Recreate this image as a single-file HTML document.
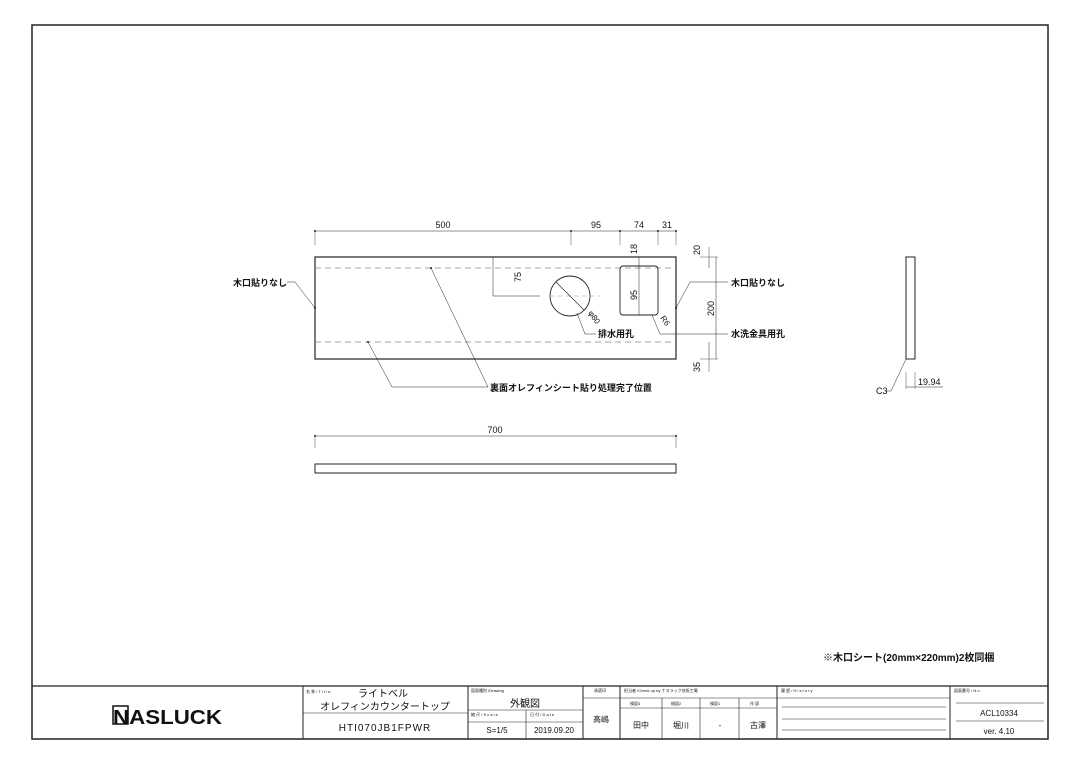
<!DOCTYPE html>
<html><head><meta charset="utf-8"><style>
body{margin:0;background:#fff}
svg{display:block}
text{font-family:"Liberation Sans","Noto Sans CJK JP",sans-serif;fill:#111}
</style></head><body>
<svg width="1080" height="764" viewBox="0 0 1080 764" xmlns="http://www.w3.org/2000/svg">
<g fill="none" stroke="#222">
<rect x="32" y="25" width="1016" height="714" stroke-width="1.5"/>
<line x1="32" y1="686" x2="1048" y2="686" stroke-width="1.2"/>
<line x1="303" y1="686" x2="303" y2="739"/>
<line x1="468" y1="686" x2="468" y2="739"/>
<line x1="583" y1="686" x2="583" y2="739"/>
<line x1="620" y1="686" x2="620" y2="739"/>
<line x1="777" y1="686" x2="777" y2="739"/>
<line x1="950" y1="686" x2="950" y2="739"/>
<line x1="303" y1="713" x2="468" y2="713" stroke-width="0.6"/>
<line x1="468" y1="710" x2="583" y2="710" stroke-width="0.6"/>
<line x1="468" y1="722" x2="583" y2="722" stroke-width="0.6"/>
<line x1="526" y1="710" x2="526" y2="739" stroke-width="0.6"/>
<line x1="583" y1="698" x2="620" y2="698" stroke-width="0.6"/>
<line x1="620" y1="698" x2="777" y2="698" stroke-width="0.6"/>
<line x1="620" y1="708" x2="777" y2="708" stroke-width="0.6"/>
<line x1="662" y1="698" x2="662" y2="739" stroke-width="0.6"/>
<line x1="700" y1="698" x2="700" y2="739" stroke-width="0.6"/>
<line x1="739" y1="698" x2="739" y2="739" stroke-width="0.6"/>
<line x1="777" y1="698" x2="950" y2="698" stroke-width="0.6"/>
<line x1="782" y1="707" x2="946" y2="707" stroke-width="0.6"/>
<line x1="782" y1="719" x2="946" y2="719" stroke-width="0.6"/>
<line x1="782" y1="730" x2="946" y2="730" stroke-width="0.6"/>
<line x1="956" y1="703" x2="1044" y2="703" stroke-width="0.6"/>
<line x1="956" y1="721" x2="1044" y2="721" stroke-width="0.6"/>

<rect x="315" y="257" width="361" height="102" stroke-width="1.2"/>
<line x1="315" y1="268" x2="676" y2="268" stroke="#888" stroke-dasharray="6,4" stroke-width="0.8"/>
<line x1="315" y1="342" x2="676" y2="342" stroke="#888" stroke-dasharray="6,4" stroke-width="0.8"/>
<circle cx="570" cy="296" r="20" stroke-width="0.9"/>
<line x1="550" y1="296" x2="600" y2="296" stroke="#999" stroke-dasharray="5,3" stroke-width="0.6"/>
<line x1="556" y1="282" x2="584" y2="310" stroke-width="0.6"/>
<rect x="620" y="266" width="38" height="49" rx="3" stroke-width="0.9"/>
<line x1="639" y1="257" x2="639" y2="315" stroke-width="0.5"/>
<line x1="315" y1="231" x2="676" y2="231" stroke-width="0.6"/>
<line x1="315" y1="231" x2="315" y2="245" stroke-width="0.4"/>
<line x1="571" y1="231" x2="571" y2="245" stroke-width="0.4"/>
<line x1="620" y1="231" x2="620" y2="245" stroke-width="0.4"/>
<line x1="658" y1="231" x2="658" y2="245" stroke-width="0.4"/>
<line x1="676" y1="231" x2="676" y2="245" stroke-width="0.4"/>
<line x1="493" y1="257" x2="493" y2="296" stroke-width="0.5"/>
<line x1="493" y1="257" x2="510" y2="257" stroke-width="0.5"/>
<line x1="493" y1="296" x2="540" y2="296" stroke-width="0.5"/>
<line x1="709" y1="257" x2="709" y2="268" stroke-width="0.5"/>
<line x1="716" y1="257" x2="716" y2="359" stroke-width="0.5"/>
<line x1="709" y1="342" x2="709" y2="359" stroke-width="0.5"/>
<line x1="700" y1="257" x2="718" y2="257" stroke-width="0.4"/>
<line x1="700" y1="359" x2="718" y2="359" stroke-width="0.4"/>
<line x1="709" y1="247" x2="709" y2="257" stroke-width="0.4"/>
<line x1="709" y1="359" x2="709" y2="372" stroke-width="0.4"/>
<polyline points="287,282 295,282 315,308" stroke-width="0.5"/>
<polyline points="728,282 690,282 676,308" stroke-width="0.5"/>
<polyline points="596,334 585,334 577,313" stroke-width="0.5"/>
<polyline points="728,334 660,334 652,315" stroke-width="0.5"/>
<polyline points="488,387 392,387 368,342" stroke-width="0.5"/>
<line x1="488" y1="387" x2="431" y2="268" stroke-width="0.5"/>
<line x1="315" y1="436" x2="676" y2="436" stroke-width="0.6"/>
<line x1="315" y1="436" x2="315" y2="448" stroke-width="0.4"/>
<line x1="676" y1="436" x2="676" y2="448" stroke-width="0.4"/>
<rect x="315" y="464" width="361" height="9" stroke-width="1"/>
<rect x="906" y="257" width="9" height="102" stroke-width="1"/>
<polyline points="886,391 891,391 906,359" stroke-width="0.5"/>
<line x1="906" y1="372" x2="906" y2="389" stroke-width="0.4"/>
<line x1="915" y1="372" x2="915" y2="389" stroke-width="0.4"/>
<line x1="906" y1="387" x2="943" y2="387" stroke-width="0.5"/>
</g>
<g fill="#222">
<circle cx="315" cy="231" r="1"/><circle cx="571" cy="231" r="1"/><circle cx="620" cy="231" r="1"/><circle cx="658" cy="231" r="1"/><circle cx="676" cy="231" r="1"/>
<circle cx="315" cy="436" r="1"/><circle cx="676" cy="436" r="1"/>
<circle cx="315" cy="308" r="1"/><circle cx="676" cy="308" r="1"/>
<circle cx="431" cy="268" r="1"/><circle cx="368" cy="342" r="1"/>
</g>
<g font-size="9">
<text x="443" y="228" text-anchor="middle">500</text>
<text x="596" y="228" text-anchor="middle">95</text>
<text x="639" y="228" text-anchor="middle">74</text>
<text x="667" y="228" text-anchor="middle">31</text>
<text x="495" y="433" text-anchor="middle">700</text>
<text transform="translate(637,254) rotate(-90)">18</text>
<text transform="translate(700,255) rotate(-90)">20</text>
<text transform="translate(521,282) rotate(-90)">75</text>
<text transform="translate(637,300) rotate(-90)">95</text>
<text transform="translate(714,316) rotate(-90)">200</text>
<text transform="translate(700,372) rotate(-90)">35</text>
<text transform="translate(588,313) rotate(55)" font-size="8">φ80</text>
<text transform="translate(660,318) rotate(55)" font-size="8">R6</text>
<text x="876" y="394">C3</text>
<text x="918" y="385">19.94</text>
<text x="233" y="286" font-weight="bold">木口貼りなし</text>
<text x="731" y="286" font-weight="bold">木口貼りなし</text>
<text x="598" y="337" font-weight="bold">排水用孔</text>
<text x="731" y="337" font-weight="bold">水洗金具用孔</text>
<text x="490" y="391" font-weight="bold">裏面オレフィンシート貼り処理完了位置</text>
<text x="823" y="661" font-size="10" font-weight="bold">※木口シート(20mm×220mm)2枚同梱</text>
</g>
<text x="113" y="724" font-size="20" font-weight="900" textLength="109" lengthAdjust="spacingAndGlyphs">NASLUCK</text>
<rect x="113" y="706" width="15" height="18" fill="none" stroke="#111" stroke-width="1.5"/>
<g font-size="4">
<text x="306" y="693">名 称 / T i t l e</text>
<text x="471" y="692">図面種別 /Drawing</text>
<text x="471" y="716">縮 尺 / S c a l e</text>
<text x="530" y="716">日 付 / D a t e</text>
<text x="594" y="692">承認印</text>
<text x="624" y="692">担当者 /Check up by ナスラック技術工場</text>
<text x="630" y="705">検図3</text><text x="671" y="705">検図2</text><text x="710" y="705">検図1</text><text x="750" y="705">作 図</text>
<text x="781" y="692">履 歴 / H i s t o r y</text>
<text x="954" y="692">図面番号 / N o .</text>
</g>
<g font-size="10">
<text x="358" y="697">ライトベル</text>
<text x="385" y="710" text-anchor="middle">オレフィンカウンタートップ</text>
<text x="385" y="731" text-anchor="middle" letter-spacing="1">HTI070JB1FPWR</text>
<text x="525" y="707" text-anchor="middle">外観図</text>
<text x="497" y="733" text-anchor="middle" font-size="8">S=1/5</text>
<text x="554" y="733" text-anchor="middle" font-size="8">2019.09.20</text>
<text x="601" y="722" text-anchor="middle" font-size="8">高嶋</text>
<text x="641" y="728" text-anchor="middle" font-size="8">田中</text>
<text x="681" y="728" text-anchor="middle" font-size="8">堀川</text>
<text x="720" y="728" text-anchor="middle" font-size="8">-</text>
<text x="758" y="728" text-anchor="middle" font-size="8">古澤</text>
<text x="999" y="716" text-anchor="middle" font-size="8">ACL10334</text>
<text x="999" y="734" text-anchor="middle" font-size="8">ver. 4.10</text>
</g>
</svg>
</body></html>
